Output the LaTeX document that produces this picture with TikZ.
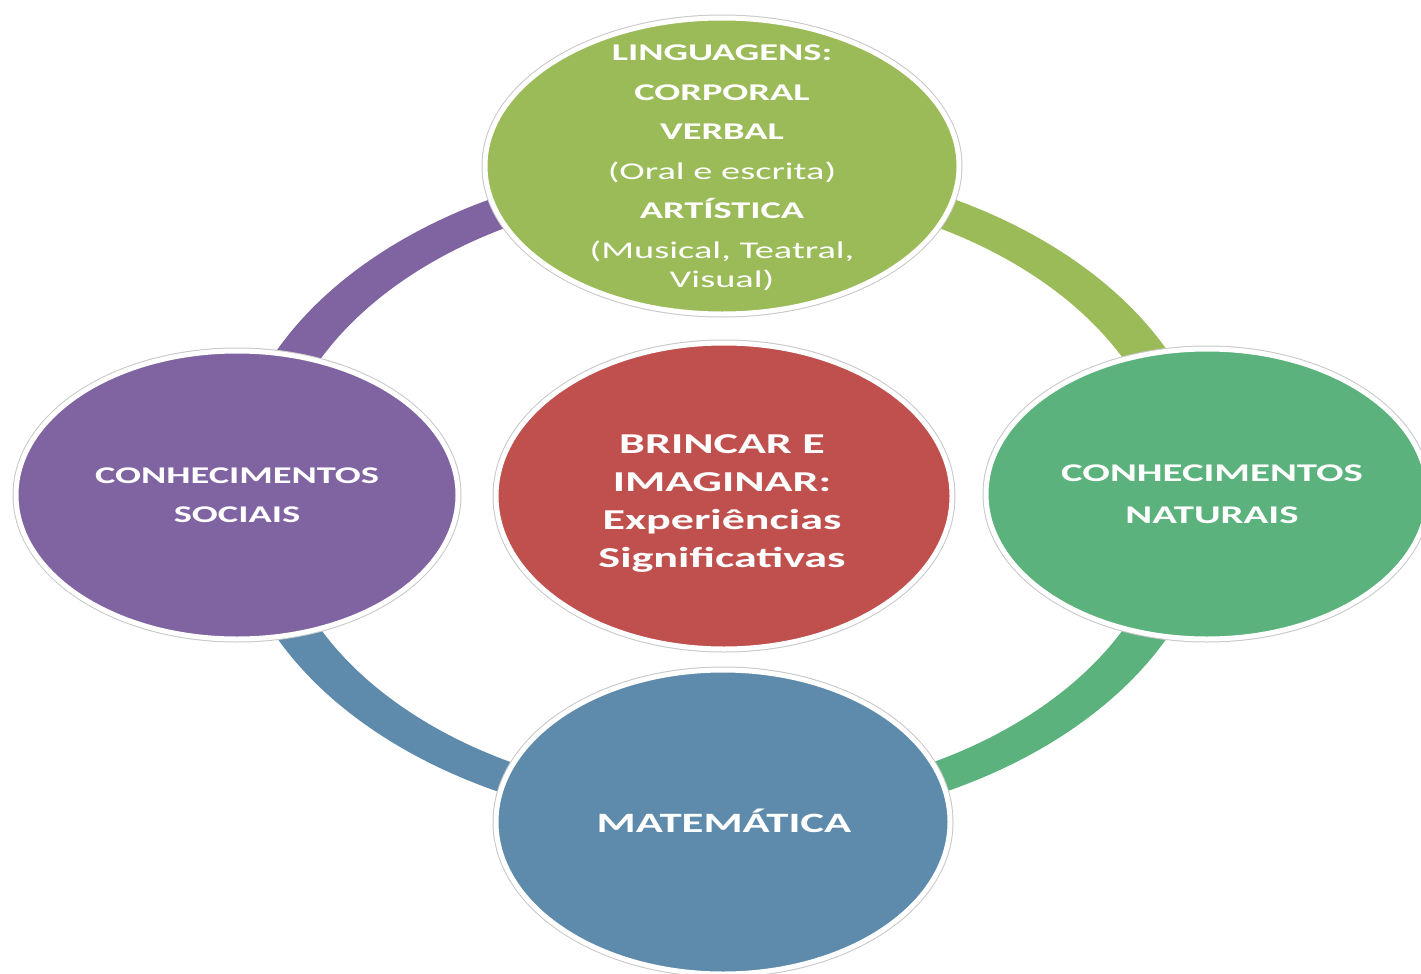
\documentclass[tikz,border=0pt]{standalone}
\usepackage{fontspec}
\setmainfont{Carlito}[FakeStretch=1.6]
\usetikzlibrary{shapes.geometric}
\definecolor{cpurple}{HTML}{8064A2}
\definecolor{clime}{HTML}{9BBB59}
\definecolor{cgreen}{HTML}{5CB27C}
\definecolor{cblue}{HTML}{5E8BAC}
\definecolor{cred}{HTML}{C0504D}
\tikzset{
  bubble/.style={ellipse, draw=white, line width=5pt, inner sep=0pt,
    preaction={draw=black!22, line width=7pt}},
  txt/.style={text=white, align=center, inner sep=0pt,
    font=\fontsize{24}{39.5}\selectfont\bfseries},
  ringpart/.style={even odd rule},
}
\begin{document}
\begin{tikzpicture}[x=1pt,y=-1pt]
\useasboundingbox (0,0) rectangle (1421,974);
\coordinate (c) at (722,494);
% ring
\foreach \col/\qx/\qy in {cpurple/0/0, clime/1421/0, cgreen/1421/974, cblue/0/974}{
  \begin{scope}
    \clip (c) rectangle (\qx,\qy);
    \fill[\col, ringpart] (c) ellipse [x radius=493, y radius=334]
                          (c) ellipse [x radius=448, y radius=304];
  \end{scope}
}
% bubbles
\node[bubble, fill=clime, minimum width=474pt, minimum height=296pt] (lang) at (722,166) {};
\node[bubble, fill=cred, minimum width=456pt, minimum height=306pt] (brin) at (724,496) {};
\node[bubble, fill=cpurple, minimum width=442pt, minimum height=288pt] (soc) at (237,495) {};
\node[bubble, fill=cgreen, minimum width=442pt, minimum height=290pt] (nat) at (1207,494) {};
\node[bubble, fill=cblue, minimum width=454pt, minimum height=304pt] (mat) at (723,822) {};
% texts
\node[txt] (langt) at (722,168) {LINGUAGENS:\\CORPORAL\\VERBAL\\{\mdseries (Oral e escrita)}\\ARTÍSTICA\\{\mdseries (Musical, Teatral,}\\[-10.5pt]{\mdseries Visual)}};
\node[txt, font=\fontsize{28.8}{38}\selectfont\bfseries] (brint) at (722,503) {BRINCAR E\\IMAGINAR:\\Experiências\\Significativas};
\node[txt] (soct) at (237,495) {CONHECIMENTOS\\SOCIAIS};
\node[txt, font=\fontsize{25.5}{41.5}\selectfont\bfseries] (natt) at (1212,494) {CONHECIMENTOS\\NATURAIS};
\node[txt, font=\fontsize{28}{38}\selectfont\bfseries] (matt) at (724,821) {MATEMÁTICA};
\end{tikzpicture}
\end{document}
